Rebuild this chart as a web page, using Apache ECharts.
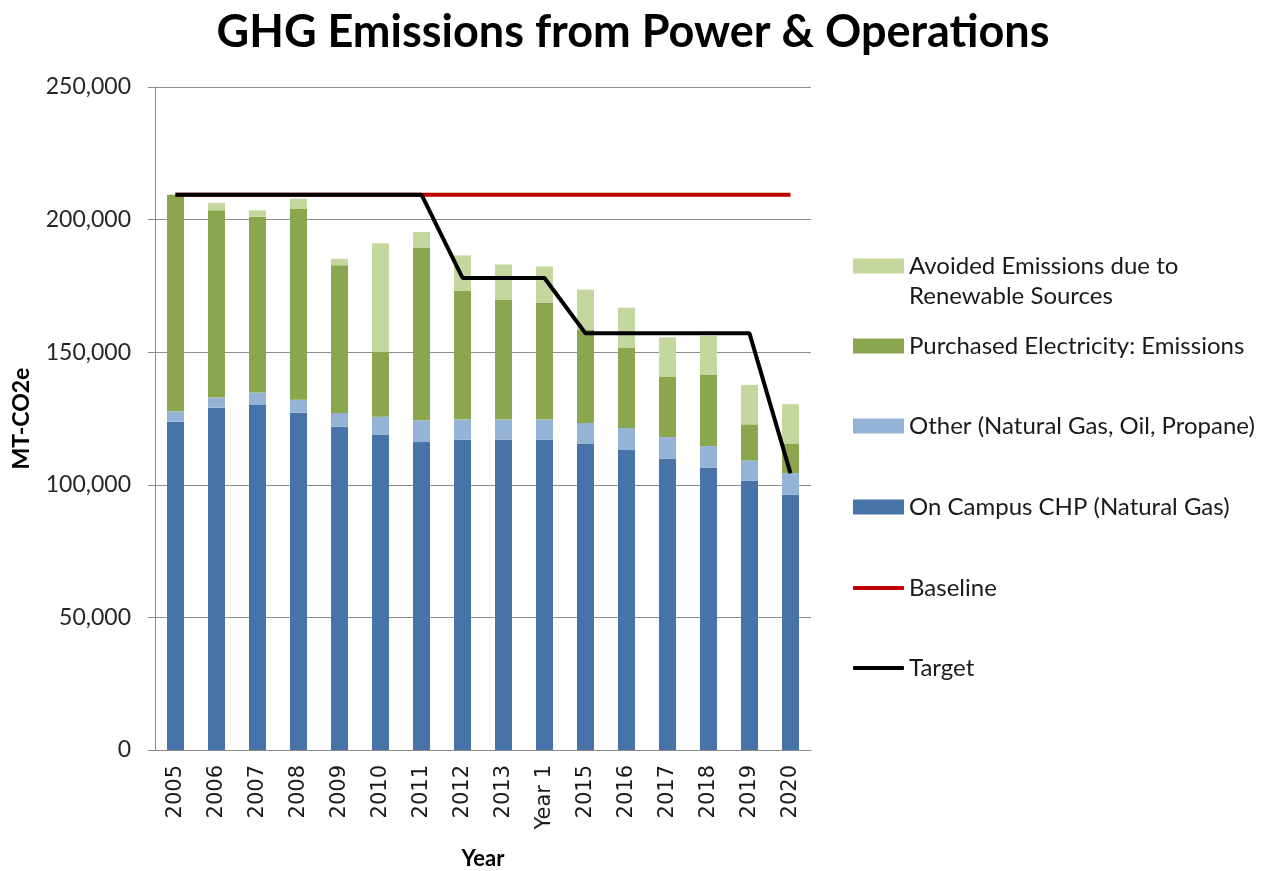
<!DOCTYPE html>
<html>
<head>
    <meta charset="utf-8" />
    <title>GHG Emissions from Power &amp; Operations</title>
    <script type="text/javascript" src="https://cdn.jsdelivr.net/npm/echarts@6/dist/echarts.min.js"></script>
    <style>
        html, body { margin: 0; padding: 0; background: #fff; }
        #main { width: 1269px; height: 871px; }
    </style>
</head>
<body>
    <div id="main"></div>
    <script type="text/javascript">
        var years = ['2005', '2006', '2007', '2008', '2009', '2010', '2011', '2012', '2013', 'Year 1', '2015', '2016', '2017', '2018', '2019', '2020'];
        var chp = [123800, 129100, 130100, 127200, 121900, 119000, 116100, 117000, 117000, 117000, 115600, 113100, 109800, 106400, 101500, 96200];
        var other = [3900, 3800, 4700, 4900, 5200, 6700, 8200, 7600, 7600, 7600, 7700, 8300, 8200, 8200, 7700, 8200];
        var purchased = [81700, 70600, 66300, 71900, 55700, 24600, 65200, 48500, 45100, 44100, 35300, 30400, 22800, 27000, 13600, 11200];
        var avoided = [0, 2800, 2400, 3900, 2400, 40800, 5800, 13400, 13400, 13600, 15000, 15000, 14800, 14600, 14900, 14800];
        var baseline = [209400, 209400, 209400, 209400, 209400, 209400, 209400, 209400, 209400, 209400, 209400, 209400, 209400, 209400, 209400, 209400];
        var target = [209400, 209400, 209400, 209400, 209400, 209400, 209400, 178000, 178000, 178000, 157100, 157100, 157100, 157100, 157100, 104300];
        var yTicks = [0, 50000, 100000, 150000, 200000, 250000];

        var nAvoided = 'Avoided Emissions due to Renewable Sources';
        var nPurchased = 'Purchased Electricity: Emissions';
        var nOther = 'Other (Natural Gas, Oil, Propane)';
        var nChp = 'On Campus CHP (Natural Gas)';

        var font = 'Lato, "Noto Sans", sans-serif';
        var gridColor = '#8c8c8c';

        // one legend per item so the rows keep the spacing of the original
        var legendRows = [
            [nAvoided, 266, 3, 'rect'],
            [nPurchased, 346, 1, 'rect'],
            [nOther, 426, 1, 'rect'],
            [nChp, 507, 1, 'rect'],
            ['Baseline', 588, 1, 'roundRect'],
            ['Target', 668, 1, 'roundRect']
        ];
        var legends = legendRows.map(function (r) {
            return {
                data: [r[0]],
                left: 848,
                top: r[1] - 15 * r[2] - 5,
                icon: r[3],
                itemWidth: 51,
                itemHeight: r[3] === 'rect' ? 15 : 4,
                selectedMode: false,
                formatter: function (n) {
                    return n === nAvoided ? '\nAvoided Emissions due to\nRenewable Sources' : n;
                },
                textStyle: { fontFamily: font, fontSize: 24, color: '#1a1a1a', lineHeight: 30 }
            };
        });

        var myChart = echarts.init(document.getElementById('main'));
        var option = {
            backgroundColor: '#fff',
            animation: false,
            title: {
                text: 'GHG Emissions from Power & Operations',
                left: 628,
                textAlign: 'center',
                top: 5,
                textStyle: { fontFamily: font, fontSize: 45, fontWeight: 'bold', color: '#000' }
            },
            legend: legends,
            grid: { left: 155, right: 458, top: 87, bottom: 121, outerBoundsMode: 'none' },
            xAxis: {
                type: 'category',
                data: years,
                name: 'Year',
                nameLocation: 'middle',
                nameGap: 98,
                nameTextStyle: { fontFamily: font, fontSize: 22, fontWeight: 'bold', color: '#000' },
                axisLine: { lineStyle: { color: gridColor, width: 1 } },
                axisTick: { length: 7, lineStyle: { color: gridColor } },
                axisLabel: {
                    rotate: 90,
                    margin: 15,
                    fontFamily: '"DejaVu Sans", sans-serif',
                    fontSize: 21,
                    color: '#1a1a1a'
                }
            },
            yAxis: {
                type: 'value',
                min: yTicks[0],
                max: yTicks[yTicks.length - 1],
                interval: yTicks[1] - yTicks[0],
                name: 'MT-CO2e',
                nameLocation: 'middle',
                nameGap: 122,
                nameTextStyle: { fontFamily: font, fontSize: 23, fontWeight: 'bold', color: '#000' },
                axisLine: { show: true, lineStyle: { color: gridColor, width: 1 } },
                axisTick: { show: true, length: 7, lineStyle: { color: gridColor } },
                splitLine: { lineStyle: { color: gridColor, width: 1 } },
                axisLabel: {
                    margin: 24,
                    fontFamily: font,
                    fontSize: 23,
                    color: '#262626',
                    formatter: function (v) { return v.toLocaleString('en-US'); }
                }
            },
            series: [
                { name: nChp, type: 'bar', stack: 'em', barWidth: 17, data: chp, itemStyle: { color: '#4673a8' } },
                { name: nOther, type: 'bar', stack: 'em', barWidth: 17, data: other, itemStyle: { color: '#95b3d7' } },
                { name: nPurchased, type: 'bar', stack: 'em', barWidth: 17, data: purchased, itemStyle: { color: '#8aa64f' } },
                { name: nAvoided, type: 'bar', stack: 'em', barWidth: 17, data: avoided, itemStyle: { color: '#c4d79c' } },
                {
                    name: 'Baseline', type: 'line', data: baseline, symbol: 'none', z: 3,
                    itemStyle: { color: '#c00000' },
                    lineStyle: { color: '#c00000', width: 4 }
                },
                {
                    name: 'Target', type: 'line', data: target, symbol: 'none', z: 4,
                    itemStyle: { color: '#000' },
                    lineStyle: { color: '#000', width: 4 }
                }
            ]
        };
        option && myChart.setOption(option);
    </script>
</body>
</html>
